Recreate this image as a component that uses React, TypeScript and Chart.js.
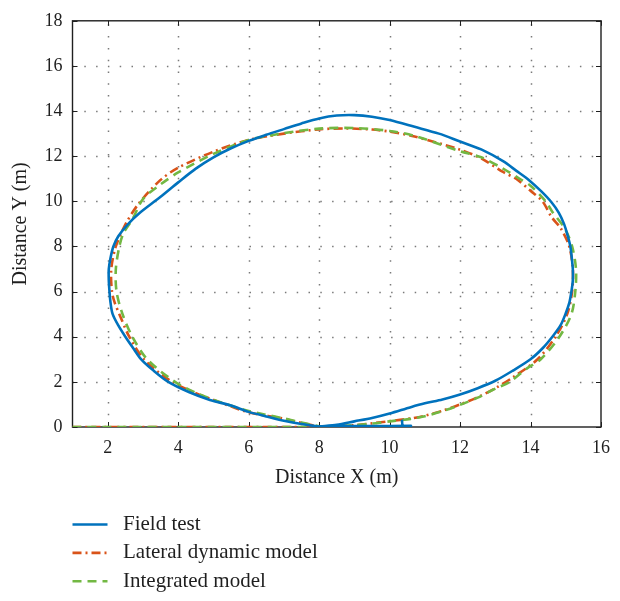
import React, { useEffect, useRef } from 'react';
import { Chart, registerables } from 'chart.js';

Chart.register(...registerables);

const xTicks = [2, 4, 6, 8, 10, 12, 14, 16];
const yTicks = [0, 2, 4, 6, 8, 10, 12, 14, 16, 18];
const seriesLabels = ['Field test', 'Lateral dynamic model', 'Integrated model'];

const fieldX = [10.35, 10.38, 10.6, 9.5, 8.6, 8.0, 8.5, 9.0, 9.5, 10.0, 10.6, 11.0, 11.5, 12.0, 12.5, 13.0, 13.5, 14.0, 14.35, 14.62, 14.85, 14.99, 15.1, 15.16, 15.2, 15.2, 15.17, 15.13, 15.05, 14.95, 14.8, 14.6, 14.3, 13.95, 13.6, 13.22, 12.6, 12.0, 11.4, 10.71, 10.0, 9.5, 9.0, 8.5, 8.0, 7.5, 7.0, 6.5, 6.0, 5.5, 5.0, 4.5, 4.0, 3.5, 2.88, 2.55, 2.3, 2.16, 2.08, 2.03, 2.03, 2.05, 2.08, 2.14, 2.3, 2.5, 2.72, 2.95, 3.3, 3.72, 4.3, 4.9, 5.5, 6.0, 6.5, 7.0, 7.5, 8.0];
const fieldY = [0.32, 0.05, 0.05, 0.04, 0.04, 0.02, 0.1, 0.25, 0.4, 0.6, 0.88, 1.05, 1.22, 1.44, 1.72, 2.05, 2.5, 3.0, 3.5, 4.0, 4.5, 5.0, 5.5, 6.0, 6.5, 7.0, 7.5, 8.0, 8.5, 9.0, 9.5, 9.95, 10.45, 10.95, 11.35, 11.78, 12.3, 12.65, 13.0, 13.3, 13.6, 13.75, 13.82, 13.8, 13.67, 13.45, 13.2, 12.95, 12.68, 12.35, 11.95, 11.45, 10.84, 10.2, 9.45, 8.95, 8.45, 8.0, 7.5, 7.0, 6.5, 6.0, 5.5, 5.0, 4.5, 4.0, 3.5, 3.0, 2.5, 2.0, 1.55, 1.2, 0.95, 0.67, 0.47, 0.28, 0.13, 0.02];

const lateralX = [1.0, 8.0, 8.5, 9.0, 9.5, 10.0, 10.6, 11.0, 11.5, 12.0, 12.5, 13.0, 13.5, 14.2, 14.71, 15.04, 15.18, 15.2, 15.1, 14.86, 14.6, 14.34, 14.0, 13.59, 13.22, 12.6, 12.0, 10.71, 10.0, 9.5, 8.75, 8.0, 7.0, 6.0, 5.0, 4.0, 3.5, 2.88, 2.51, 2.23, 2.1, 2.12, 2.2, 2.33, 2.61, 3.03, 3.82, 4.5, 5.0, 6.0, 6.9, 7.5, 8.0];
const lateralY = [0.0, 0.0, 0.03, 0.08, 0.16, 0.26, 0.38, 0.5, 0.72, 1.0, 1.32, 1.72, 2.2, 3.0, 4.0, 5.0, 6.0, 7.0, 8.0, 8.8, 9.3, 10.0, 10.47, 11.0, 11.3, 11.9, 12.29, 12.87, 13.09, 13.18, 13.23, 13.19, 13.0, 12.72, 12.2, 11.49, 10.95, 9.9, 9.0, 8.0, 7.0, 6.0, 5.5, 5.0, 4.0, 3.0, 2.0, 1.5, 1.2, 0.65, 0.4, 0.18, 0.02];

const integratedX = [1.0, 8.0, 8.5, 9.0, 9.5, 10.0, 10.6, 11.0, 11.5, 12.0, 12.5, 13.0, 13.41, 13.9, 14.29, 14.82, 15.16, 15.27, 15.29, 15.18, 14.97, 14.62, 14.43, 14.0, 13.69, 13.22, 12.6, 12.0, 10.71, 10.0, 9.0, 8.0, 7.0, 6.0, 5.0, 4.0, 3.5, 3.0, 2.7, 2.45, 2.33, 2.23, 2.25, 2.42, 2.7, 3.12, 3.91, 4.6, 5.2, 6.0, 7.0, 7.5, 8.0];
const integratedY = [0.0, 0.0, 0.03, 0.08, 0.15, 0.25, 0.36, 0.48, 0.7, 0.98, 1.3, 1.7, 2.0, 2.6, 3.0, 4.0, 5.0, 6.0, 7.0, 8.0, 8.8, 9.53, 10.0, 10.69, 11.0, 11.45, 11.95, 12.22, 12.9, 13.12, 13.25, 13.22, 13.02, 12.72, 12.1, 11.28, 10.75, 10.1, 9.2, 8.6, 8.0, 7.0, 6.0, 5.0, 4.0, 3.0, 2.0, 1.45, 1.1, 0.71, 0.38, 0.2, 0.03];

const FONT = "'Liberation Serif', 'Times New Roman', serif";
const TEXT = '#1f1f1f';

const toPoints = (xs: number[], ys: number[]) => xs.map((x, i) => ({ x, y: ys[i] }));

const framePlugin = {
  id: 'frame',
  beforeDatasetsDraw(chart: any) {
    const { ctx, chartArea } = chart;
    const { left, right, top, bottom } = chartArea;
    const xs = chart.scales.x;
    const ys = chart.scales.y;
    ctx.save();
    ctx.strokeStyle = '#7a7a7a';
    ctx.lineWidth = 1.5;
    ctx.setLineDash([1.5, 10.3]);
    xs.ticks.forEach((t: any) => {
      const px = Math.round(xs.getPixelForValue(t.value)) + 0.5;
      if (px <= left + 2 || px >= right - 2) return;
      ctx.beginPath();
      ctx.moveTo(px, bottom);
      ctx.lineTo(px, top);
      ctx.stroke();
    });
    ys.ticks.forEach((t: any) => {
      const py = Math.round(ys.getPixelForValue(t.value)) + 0.5;
      if (py <= top + 2 || py >= bottom - 2) return;
      ctx.beginPath();
      ctx.moveTo(left, py);
      ctx.lineTo(right, py);
      ctx.stroke();
    });
    ctx.setLineDash([]);
    ctx.strokeStyle = TEXT;
    ctx.lineWidth = 1.4;
    ctx.strokeRect(left, top, right - left, bottom - top);
    ctx.lineWidth = 1;
    const tl = 5;
    xs.ticks.forEach((t: any) => {
      const px = Math.round(xs.getPixelForValue(t.value)) + 0.5;
      ctx.beginPath();
      ctx.moveTo(px, bottom);
      ctx.lineTo(px, bottom - tl);
      ctx.moveTo(px, top);
      ctx.lineTo(px, top + tl);
      ctx.stroke();
    });
    ys.ticks.forEach((t: any) => {
      const py = Math.round(ys.getPixelForValue(t.value)) + 0.5;
      ctx.beginPath();
      ctx.moveTo(left, py);
      ctx.lineTo(left + tl, py);
      ctx.moveTo(right, py);
      ctx.lineTo(right - tl, py);
      ctx.stroke();
    });
    ctx.restore();
  },
  afterDraw(chart: any) {
    const { ctx, chartArea } = chart;
    ctx.save();
    chart.data.datasets.forEach((ds: any, i: number) => {
      const y = chartArea.bottom + 97.5 + i * 28.4;
      ctx.strokeStyle = ds.borderColor;
      ctx.lineWidth = ds.borderWidth;
      ctx.setLineDash(ds.borderDash || []);
      ctx.beginPath();
      ctx.moveTo(chartArea.left, y);
      ctx.lineTo(chartArea.left + 35, y);
      ctx.stroke();
      ctx.setLineDash([]);
      ctx.fillStyle = TEXT;
      ctx.font = `21px ${FONT}`;
      ctx.textBaseline = 'middle';
      ctx.textAlign = 'left';
      ctx.fillText(ds.label, chartArea.left + 50.5, y);
    });
    ctx.restore();
  },
};

export default function App() {
  const ref = useRef<HTMLCanvasElement | null>(null);
  useEffect(() => {
    document.body.style.margin = '0';
    if (!ref.current) return;
    const chart = new Chart(ref.current, {
      type: 'scatter',
      data: {
        datasets: [
          {
            label: seriesLabels[0],
            data: toPoints(fieldX, fieldY),
            showLine: true,
            borderColor: '#0072BD',
            borderWidth: 2.6,
            pointRadius: 0,
            tension: 0.3,
            order: 0,
          },
          {
            label: seriesLabels[1],
            data: toPoints(lateralX, lateralY),
            showLine: true,
            borderColor: '#D95319',
            borderWidth: 2.6,
            borderDash: [9, 4, 2, 4],
            pointRadius: 0,
            tension: 0.3,
            order: 2,
          },
          {
            label: seriesLabels[2],
            data: toPoints(integratedX, integratedY),
            showLine: true,
            borderColor: '#72B843',
            borderWidth: 2.6,
            borderDash: [9, 6],
            pointRadius: 0,
            tension: 0.3,
            order: 1,
          },
        ] as any,
      },
      options: {
        animation: false,
        responsive: false,
        layout: { padding: { left: 0, top: 14, right: 11, bottom: 94 } },
        plugins: { legend: { display: false }, tooltip: { enabled: false } },
        scales: {
          x: {
            type: 'linear',
            min: 1,
            max: 16,
            afterBuildTicks: (s: any) => {
              s.ticks = xTicks.map((v) => ({ value: v }));
            },
            afterFit: (s: any) => {
              s.height = 80;
            },
            grid: { display: false, drawTicks: false },
            border: { display: false },
            ticks: { color: TEXT, font: { family: FONT, size: 18 }, padding: 10, maxRotation: 0, autoSkip: false },
            title: {
              display: true,
              text: 'Distance X (m)',
              color: TEXT,
              font: { family: FONT, size: 20 },
              padding: { top: 4, bottom: 17 },
            },
          },
          y: {
            type: 'linear',
            min: 0,
            max: 18,
            afterBuildTicks: (s: any) => {
              s.ticks = yTicks.map((v) => ({ value: v }));
            },
            afterFit: (s: any) => {
              s.width = 72.5;
            },
            grid: { display: false, drawTicks: false },
            border: { display: false },
            ticks: { color: TEXT, font: { family: FONT, size: 18 }, padding: 10, autoSkip: false },
            title: {
              display: true,
              text: 'Distance Y (m)',
              color: TEXT,
              font: { family: FONT, size: 20 },
              padding: { top: 9, bottom: 9 },
            },
          },
        },
      } as any,
      plugins: [framePlugin],
    });
    return () => chart.destroy();
  }, []);
  return (
    <div style={{ width: 620, height: 601 }}>
      <canvas ref={ref} width={620} height={601} style={{ display: 'block' }} />
    </div>
  );
}
